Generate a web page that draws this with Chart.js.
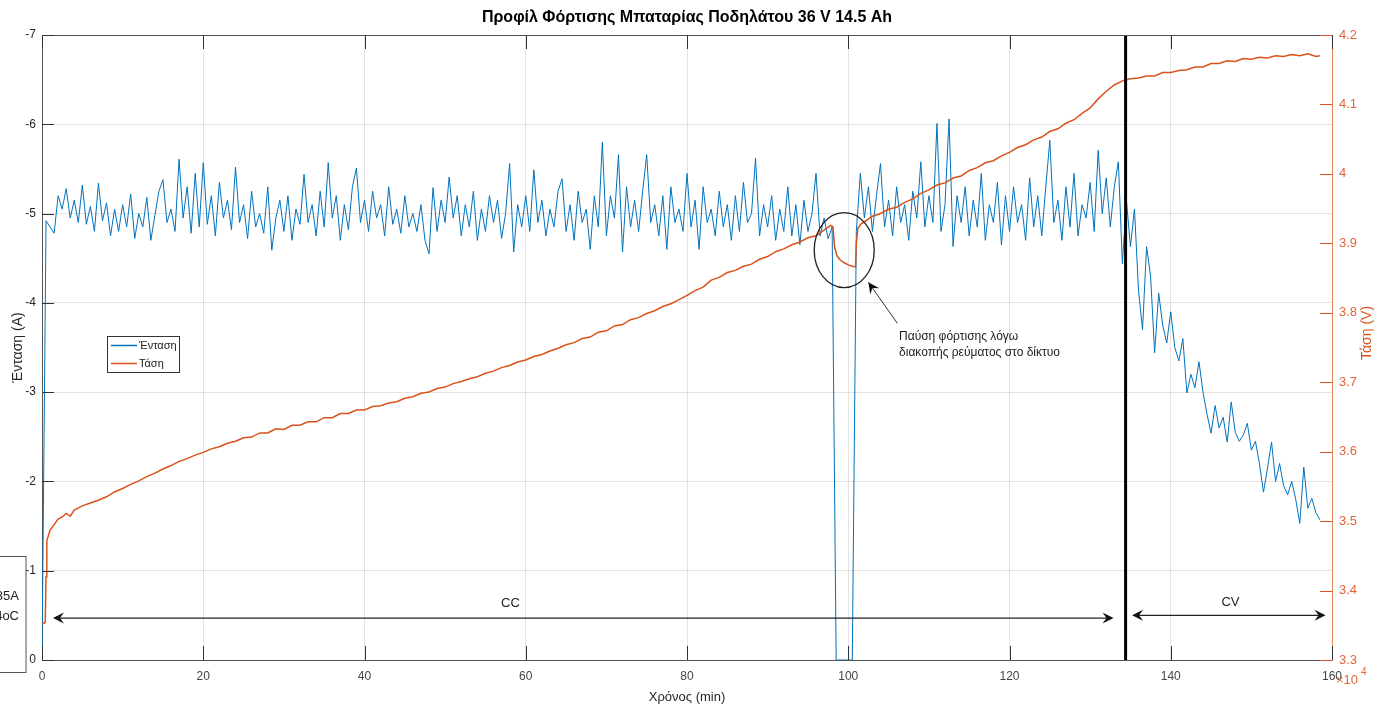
<!DOCTYPE html>
<html>
<head>
<meta charset="utf-8">
<script src="https://cdn.jsdelivr.net/npm/chart.js@4.4.0/dist/chart.umd.min.js"></script>
<style>
  html, body { margin: 0; padding: 0; background: #fff; }
  canvas { display: block; }
</style>
</head>
<body>
<canvas id="grafico" width="1379" height="711"></canvas>
<script>
// ρεύμα φόρτισης (A), ένα δείγμα κάθε 0.5 min από t = 0
const currentStep = 0.5;
const currentA = [
  0, -4.92, -4.85, -4.78, -5.2, -5.05, -5.28, -4.95, -5.15, -4.9,
  -5.32, -4.88, -5.08, -4.8, -5.34, -4.92, -5.12, -4.75, -5.05, -4.8,
  -5.1, -4.85, -5.22, -4.72, -5.0, -4.85, -5.18, -4.7, -4.98, -5.25,
  -5.38, -4.9, -5.05, -4.8, -5.61, -4.95, -5.3, -4.78, -5.45, -4.85,
  -5.57, -4.88, -5.2, -4.75, -5.35, -4.95, -5.15, -4.82, -5.52, -4.9,
  -5.1, -4.72, -5.25, -4.85, -5.0, -4.78, -5.3, -4.59, -4.95, -5.15,
  -4.8, -5.2, -4.7, -5.05, -4.88, -5.44, -4.9, -5.1, -4.75, -5.25,
  -4.85, -5.57, -4.95, -5.2, -4.7, -5.1, -4.82, -5.3, -5.51, -4.9,
  -5.15, -4.8, -5.25, -4.95, -5.1, -4.75, -5.3, -4.88, -5.05, -4.78,
  -5.2, -4.85, -5.0, -4.8, -5.1, -4.7, -4.55, -5.29, -4.8, -5.15,
  -4.9, -5.41, -4.95, -5.2, -4.75, -5.1, -4.85, -5.25, -4.7, -5.05,
  -4.8, -5.2, -4.9, -5.15, -4.72, -5.0, -5.56, -4.57, -5.1, -4.85,
  -5.2, -4.8, -5.49, -4.9, -5.15, -4.75, -5.05, -4.85, -5.25, -5.39,
  -4.8, -5.1, -4.7, -5.25, -4.9, -5.05, -4.6, -5.2, -4.85, -5.8,
  -4.75, -5.2, -4.95, -5.66, -4.57, -5.3, -4.85, -5.15, -4.8, -5.25,
  -5.66, -4.9, -5.1, -4.75, -5.2, -4.6, -5.3, -4.9, -5.05, -4.8,
  -5.45, -4.85, -5.15, -4.6, -5.3, -4.9, -5.05, -4.75, -5.25, -4.85,
  -5.1, -4.7, -5.2, -4.8, -5.35, -4.9, -5.0, -5.62, -4.75, -5.1,
  -4.85, -5.2, -4.7, -5.05, -4.8, -5.3, -4.75, -5.1, -4.65, -5.15,
  -4.8, -5.0, -5.45, -4.75, -4.95, -4.72, -4.85, 0, 0, 0,
  0, 0, -4.8, -5.45, -4.95, -5.3, -4.8, -5.2, -5.56, -4.85,
  -5.15, -4.75, -5.3, -4.9, -5.1, -4.7, -5.25, -4.95, -5.58, -4.85,
  -5.2, -4.9, -6.01, -4.8, -5.1, -6.06, -4.63, -5.2, -4.9, -5.3,
  -4.75, -5.15, -4.85, -5.45, -4.7, -5.1, -4.9, -5.35, -4.65, -5.2,
  -4.8, -5.3, -4.9, -5.1, -4.7, -5.4, -4.85, -5.2, -4.75, -5.3,
  -5.82, -4.9, -5.15, -4.7, -5.3, -4.85, -5.45, -4.75, -5.1, -4.95,
  -5.35, -4.8, -5.71, -5.0, -5.4, -4.85, -5.3, -5.58, -4.44, -5.15,
  -4.63, -5.05, -4.14, -3.7, -4.63, -4.3, -3.44, -4.11, -3.75, -3.55,
  -3.9, -3.5, -3.35, -3.6, -2.99, -3.2, -3.05, -3.34, -3.0, -2.75,
  -2.54, -2.85, -2.6, -2.72, -2.44, -2.89, -2.55, -2.45, -2.52, -2.65,
  -2.35, -2.45, -2.2, -1.88, -2.15, -2.44, -2.0, -2.2, -1.95, -1.85,
  -2.0, -1.8, -1.53, -2.16, -1.7, -1.81, -1.65, -1.57
];

// τάση κελιού (V)
const voltTime = [
  0, 0.4, 0.5, 0.6, 1, 1.5, 2, 2.5, 3, 3.5, 4, 5, 6, 7, 8, 9, 10, 11, 12, 13, 14, 15, 16, 17, 18, 19,
  20, 21, 22, 23, 24, 25, 26, 27, 28, 29, 30, 31, 32, 33, 34, 35, 36, 37, 38, 39,
  40, 41, 42, 43, 44, 45, 46, 47, 48, 49, 50, 51, 52, 53, 54, 55, 56, 57, 58, 59,
  60, 61, 62, 63, 64, 65, 66, 67, 68, 69, 70, 71, 72, 73, 74, 75, 76, 77, 78, 79,
  80, 81, 82, 83, 84, 85, 86, 87, 88, 89, 90, 91, 92, 93, 94, 95, 96, 97, 97.8,
  98.1, 98.3, 98.6, 99, 99.5, 100, 100.5, 100.9, 101.0, 101.2, 101.6,
  102, 103, 104, 105, 106, 107, 108, 109, 110, 111, 112, 113, 114, 115, 116, 117, 118, 119,
  120, 121, 122, 123, 124, 125, 126, 127, 128, 129, 130, 131, 132, 133, 134, 135, 136, 137, 138, 139,
  140, 141, 142, 143, 144, 145, 146, 147, 148, 149, 150, 151, 152, 153, 154, 155, 156, 157, 158, 158.5
];
const voltV = [
  3.352, 3.354, 3.42, 3.472, 3.487, 3.495, 3.503, 3.506, 3.511, 3.507, 3.516, 3.522, 3.526, 3.53, 3.535, 3.542, 3.547, 3.553, 3.558, 3.564, 3.569, 3.575, 3.58, 3.586, 3.59, 3.595,
  3.599, 3.604, 3.607, 3.612, 3.615, 3.62, 3.621, 3.627, 3.627, 3.633, 3.632, 3.638, 3.638, 3.643, 3.643, 3.649, 3.649, 3.655, 3.655, 3.66,
  3.66, 3.665, 3.666, 3.67, 3.672, 3.677, 3.679, 3.684, 3.686, 3.691, 3.693, 3.698, 3.701, 3.705, 3.708, 3.713, 3.716, 3.721, 3.724, 3.729,
  3.732, 3.737, 3.74, 3.745, 3.749, 3.754, 3.757, 3.763, 3.765, 3.772, 3.774, 3.781, 3.783, 3.79, 3.793, 3.799, 3.803, 3.809, 3.813, 3.819,
  3.825, 3.832, 3.837, 3.847, 3.851, 3.858, 3.861, 3.867, 3.87, 3.877, 3.881, 3.888, 3.892, 3.898, 3.902, 3.908, 3.911, 3.919, 3.926,
  3.924, 3.895, 3.882, 3.876, 3.872, 3.869, 3.867, 3.866, 3.9, 3.922, 3.928,
  3.931, 3.939, 3.943, 3.949, 3.952, 3.959, 3.964, 3.972, 3.977, 3.984, 3.987, 3.994, 3.997, 4.005, 4.009, 4.016, 4.019, 4.026,
  4.031, 4.038, 4.042, 4.049, 4.053, 4.061, 4.065, 4.073, 4.078, 4.087, 4.095, 4.108, 4.119, 4.128, 4.134, 4.137, 4.138, 4.141, 4.141, 4.146,
  4.146, 4.149, 4.15, 4.154, 4.154, 4.159, 4.159, 4.163, 4.162, 4.166, 4.165, 4.168, 4.167, 4.17, 4.169, 4.172, 4.17, 4.173, 4.169, 4.17
];

const xTicks = [0, 20, 40, 60, 80, 100, 120, 140, 160];
const leftTicks = [-7, -6, -5, -4, -3, -2, -1, 0];
const rightTicks = [3.3, 3.4, 3.5, 3.6, 3.7, 3.8, 3.9, 4.0, 4.1, 4.2];
const cvStart = 134.4; // αλλαγή CC -> CV

const BLUE = '#0072BD';
const ORANGE = '#D95319';
const FONT = '"Liberation Sans", Arial, Helvetica, sans-serif';

const currentPoints = currentA.map((v, i) => ({ x: i * currentStep, y: v }));
const voltPoints = voltTime.map((t, i) => ({ x: t, y: voltV[i] }));

function arrowHead(ctx, x, y, ang) {
  ctx.save();
  ctx.translate(x, y);
  ctx.rotate(ang);
  ctx.beginPath();
  ctx.moveTo(0, 0);
  ctx.lineTo(-11, -5.5);
  ctx.lineTo(-7, 0);
  ctx.lineTo(-11, 5.5);
  ctx.closePath();
  ctx.fill();
  ctx.restore();
}

function doubleArrow(ctx, x1, x2, y) {
  ctx.beginPath();
  ctx.moveTo(x1 + 4, y);
  ctx.lineTo(x2 - 4, y);
  ctx.stroke();
  arrowHead(ctx, x1, y, Math.PI);
  arrowHead(ctx, x2, y, 0);
}

const extras = {
  id: 'extras',
  afterDatasetsDraw(chart) {
    const { ctx, chartArea: a, scales } = chart;
    const x = scales.x, yL = scales.yL, yR = scales.yR;
    ctx.save();

    // μαύρη κατακόρυφη γραμμή
    const xb = x.getPixelForValue(cvStart);
    ctx.strokeStyle = '#000';
    ctx.lineWidth = 3;
    ctx.beginPath(); ctx.moveTo(xb, a.top); ctx.lineTo(xb, a.bottom); ctx.stroke();

    // πλαίσιο πάνω
    ctx.lineWidth = 1;
    ctx.strokeStyle = '#555';
    ctx.beginPath(); ctx.moveTo(a.left, a.top + 0.5); ctx.lineTo(a.right, a.top + 0.5); ctx.stroke();

    // ticks προς τα μέσα
    ctx.strokeStyle = '#333';
    xTicks.forEach(t => {
      const px = Math.round(x.getPixelForValue(t)) + 0.5;
      ctx.beginPath();
      ctx.moveTo(px, a.bottom); ctx.lineTo(px, a.bottom - 14);
      ctx.moveTo(px, a.top); ctx.lineTo(px, a.top + 14);
      ctx.stroke();
    });
    leftTicks.forEach(v => {
      const py = Math.round(yL.getPixelForValue(v)) + 0.5;
      ctx.beginPath(); ctx.moveTo(a.left, py); ctx.lineTo(a.left + 12, py); ctx.stroke();
    });
    ctx.strokeStyle = ORANGE;
    rightTicks.forEach(v => {
      const py = Math.round(yR.getPixelForValue(v)) + 0.5;
      ctx.beginPath(); ctx.moveTo(a.right, py); ctx.lineTo(a.right - 12, py); ctx.stroke();
    });

    // έλλειψη γύρω από την παύση
    const cx = x.getPixelForValue(99.5), cy = yL.getPixelForValue(-4.59);
    const rx = x.getPixelForValue(99.5 + 3.72) - cx;
    const ry = yL.getPixelForValue(-4.59 + 0.42) - cy;
    ctx.strokeStyle = '#222';
    ctx.lineWidth = 1.3;
    ctx.beginPath(); ctx.ellipse(cx, cy, Math.abs(rx), Math.abs(ry), 0, 0, Math.PI * 2); ctx.stroke();

    // βέλος προς την έλλειψη
    const ax1 = x.getPixelForValue(106.1), ay1 = yL.getPixelForValue(-3.77);
    const ax2 = x.getPixelForValue(102.5), ay2 = yL.getPixelForValue(-4.23);
    ctx.strokeStyle = '#333';
    ctx.fillStyle = '#111';
    ctx.lineWidth = 1;
    ctx.beginPath(); ctx.moveTo(ax1, ay1); ctx.lineTo(ax2, ay2); ctx.stroke();
    arrowHead(ctx, ax2, ay2, Math.atan2(ay2 - ay1, ax2 - ax1));

    ctx.fillStyle = '#222';
    ctx.font = '12px ' + FONT;
    ctx.textAlign = 'left';
    ctx.textBaseline = 'alphabetic';
    ctx.fillText('Παύση φόρτισης λόγω', x.getPixelForValue(106.3), yL.getPixelForValue(-3.58));
    ctx.fillText('διακοπής ρεύματος στο δίκτυο', x.getPixelForValue(106.3), yL.getPixelForValue(-3.41));

    // βέλη CC / CV
    ctx.strokeStyle = '#222';
    ctx.fillStyle = '#111';
    ctx.lineWidth = 1.3;
    doubleArrow(ctx, x.getPixelForValue(1.36), x.getPixelForValue(132.9), yL.getPixelForValue(-0.47));
    doubleArrow(ctx, x.getPixelForValue(135.2), x.getPixelForValue(159.2), yL.getPixelForValue(-0.5));
    ctx.fillStyle = '#222';
    ctx.font = '13px ' + FONT;
    ctx.textAlign = 'center';
    ctx.textBaseline = 'middle';
    ctx.fillText('CC', x.getPixelForValue(58.1), yL.getPixelForValue(-0.63));
    ctx.fillText('CV', x.getPixelForValue(147.4), yL.getPixelForValue(-0.64));

    // υπόμνημα
    ctx.fillStyle = '#fff';
    ctx.fillRect(107.5, 336.5, 72, 36);
    ctx.strokeStyle = '#333';
    ctx.lineWidth = 1;
    ctx.strokeRect(107.5, 336.5, 72, 36);
    ctx.lineWidth = 1.5;
    ctx.strokeStyle = BLUE;
    ctx.beginPath(); ctx.moveTo(111, 345.5); ctx.lineTo(137, 345.5); ctx.stroke();
    ctx.strokeStyle = ORANGE;
    ctx.beginPath(); ctx.moveTo(111, 363.5); ctx.lineTo(137, 363.5); ctx.stroke();
    ctx.fillStyle = '#222';
    ctx.font = '11px ' + FONT;
    ctx.textAlign = 'left';
    ctx.fillText('Ένταση', 139, 346);
    ctx.fillText('Τάση', 139, 364);

    ctx.restore();
  },
  afterDraw(chart) {
    const { ctx, chartArea: a } = chart;
    ctx.save();
    const midX = (a.left + a.right) / 2;
    const midY = (a.top + a.bottom) / 2;

    ctx.fillStyle = '#000';
    ctx.font = 'bold 16px ' + FONT;
    ctx.textAlign = 'center';
    ctx.textBaseline = 'middle';
    ctx.fillText('Προφίλ Φόρτισης Μπαταρίας Ποδηλάτου 36 V 14.5 Ah', midX, 18);

    ctx.fillStyle = '#262626';
    ctx.font = '13px ' + FONT;
    ctx.fillText('Χρόνος (min)', midX, 697);

    ctx.save();
    ctx.translate(18, midY);
    ctx.rotate(-Math.PI / 2);
    ctx.font = '14px ' + FONT;
    ctx.fillText('Ένταση (A)', 0, 0);
    ctx.restore();

    ctx.save();
    ctx.translate(1367, 333);
    ctx.rotate(-Math.PI / 2);
    ctx.fillStyle = ORANGE;
    ctx.font = '14px ' + FONT;
    ctx.fillText('Τάση (V)', 0, 0);
    ctx.restore();

    // ×10^4
    ctx.fillStyle = '#E0663A';
    ctx.textAlign = 'left';
    ctx.font = '13px ' + FONT;
    ctx.fillText('×10', 1336, 680);
    ctx.font = '10px ' + FONT;
    ctx.fillText('4', 1361, 672);

    // κομμένο πλαίσιο αριστερά
    ctx.fillStyle = '#fff';
    ctx.fillRect(-5, 556.5, 31, 116);
    ctx.strokeStyle = '#555';
    ctx.lineWidth = 1;
    ctx.strokeRect(-5, 556.5, 31, 116);
    ctx.fillStyle = '#222';
    ctx.textAlign = 'right';
    ctx.font = '13px ' + FONT;
    ctx.fillText('I=0.35A', 19, 596);
    ctx.fillText('T=24oC', 19, 616);

    ctx.restore();
  }
};

new Chart(document.getElementById('grafico'), {
  type: 'line',
  data: {
    datasets: [
      {
        label: 'Ένταση',
        data: currentPoints,
        yAxisID: 'yL',
        borderColor: BLUE,
        borderWidth: 1,
        pointRadius: 0,
        tension: 0,
        order: 2
      },
      {
        label: 'Τάση',
        data: voltPoints,
        yAxisID: 'yR',
        borderColor: ORANGE,
        borderWidth: 1.5,
        pointRadius: 0,
        tension: 0,
        order: 1
      }
    ]
  },
  options: {
    responsive: false,
    animation: false,
    layout: { padding: { top: 35, left: 0, right: 0, bottom: 0 } },
    plugins: {
      legend: { display: false },
      tooltip: { enabled: false },
      title: { display: false }
    },
    scales: {
      x: {
        type: 'linear',
        min: 0,
        max: 160,
        afterFit: s => { s.height = 51; },
        afterBuildTicks: s => { s.ticks = xTicks.map(v => ({ value: v })); },
        ticks: { color: '#444', font: { size: 12, family: FONT }, padding: 9, maxRotation: 0 },
        grid: { color: 'rgba(0,0,0,0.11)', drawTicks: false },
        border: { color: '#555', width: 1 }
      },
      yL: {
        type: 'linear',
        position: 'left',
        min: -7,
        max: 0,
        reverse: true,
        afterFit: s => { s.width = 42; },
        afterBuildTicks: s => { s.ticks = leftTicks.map(v => ({ value: v })); },
        ticks: { color: '#262626', font: { size: 12, family: FONT }, padding: 6 },
        grid: { color: 'rgba(0,0,0,0.11)', drawTicks: false },
        border: { color: '#555', width: 1 }
      },
      yR: {
        type: 'linear',
        position: 'right',
        min: 3.3,
        max: 4.2,
        afterFit: s => { s.width = 47; },
        afterBuildTicks: s => { s.ticks = rightTicks.map(v => ({ value: v })); },
        ticks: {
          color: '#E0663A',
          font: { size: 13, family: FONT },
          padding: 7,
          callback: v => String(+v.toFixed(1))
        },
        grid: { drawOnChartArea: false, drawTicks: false },
        border: { color: '#E8875A', width: 1 }
      }
    }
  },
  plugins: [extras]
});
</script>
</body>
</html>
